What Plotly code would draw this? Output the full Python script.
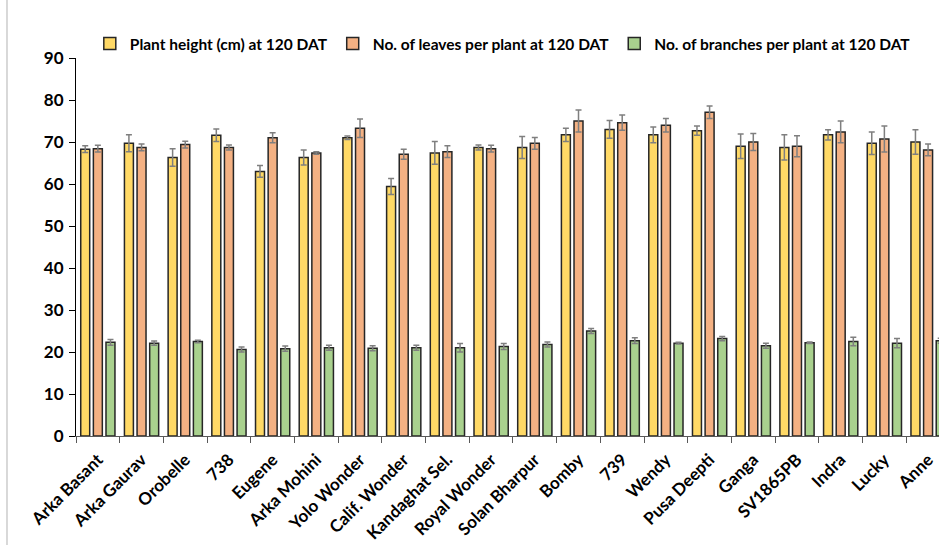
import plotly.graph_objects as go

categories = ["Arka Basant", "Arka Gaurav", "Orobelle", "738", "Eugene", "Arka Mohini",
              "Yolo Wonder", "Calif. Wonder", "Kandaghat Sel.", "Royal Wonder", "Solan Bharpur",
              "Bomby", "739", "Wendy", "Pusa Deepti", "Ganga", "SV1865PB", "Indra", "Lucky", "Anne"]

height = [68.3, 69.7, 66.3, 71.6, 63.0, 66.3, 71.0, 59.4, 67.4, 68.7,
          68.7, 71.7, 73.0, 71.7, 72.7, 69.0, 68.7, 71.7, 69.7, 70.0]
height_err = [0.8, 2.0, 2.1, 1.5, 1.4, 1.8, 0.4, 1.9, 2.7, 0.6,
              2.6, 1.6, 2.1, 1.9, 1.1, 2.9, 3.0, 1.2, 2.7, 2.9]
leaves = [68.4, 68.7, 69.4, 68.7, 71.0, 67.4, 73.3, 67.1, 67.7, 68.4,
          69.7, 75.0, 74.6, 74.0, 77.1, 70.0, 69.0, 72.4, 70.7, 68.1]
leaves_err = [0.8, 0.8, 0.8, 0.6, 1.2, 0.3, 2.2, 1.2, 1.4, 0.8,
              1.4, 2.6, 1.8, 1.6, 1.5, 2.0, 2.5, 2.6, 3.1, 1.4]
branches = [22.3, 22.1, 22.5, 20.6, 20.8, 21.0, 20.9, 21.0, 21.0, 21.3,
            21.8, 25.0, 22.7, 22.1, 23.2, 21.5, 22.2, 22.5, 22.1, 22.7]
branches_err = [0.7, 0.5, 0.3, 0.6, 0.6, 0.6, 0.6, 0.6, 1.0, 0.7,
                0.6, 0.6, 0.7, 0.2, 0.5, 0.6, 0.2, 1.0, 1.1, 0.6]

series = [
    ("Plant height (cm) at 120 DAT", height, height_err, "#FFD966"),
    ("No. of leaves per plant at 120 DAT", leaves, leaves_err, "#F4B183"),
    ("No. of branches per plant at 120 DAT", branches, branches_err, "#A9D18E"),
]

FONT = "Lato"
fig = go.Figure()
for name, vals, errs, col in series:
    fig.add_trace(go.Bar(
        x=categories, y=vals, name=name,
        marker=dict(color=col, line=dict(color="#262626", width=1.5)),
        error_y=dict(type="data", array=errs, visible=True, color="#7F7F7F",
                     thickness=1.5, width=3),
    ))

fig.update_layout(
    width=939, height=545, autosize=False,
    margin=dict(l=76, r=0, t=58, b=109),
    plot_bgcolor="white", paper_bgcolor="white",
    barmode="group", bargap=0.133, bargroupgap=0.29,
    font=dict(family=FONT, color="#000000"),
    legend=dict(orientation="h", x=0.016, xanchor="left", y=1.037, yanchor="middle",
                font=dict(family=FONT, size=15.5, color="#000000", weight="bold"),
                itemwidth=30, tracegroupgap=0, bgcolor="rgba(0,0,0,0)"),
    xaxis=dict(type="category", range=[-0.5, 19.25], showline=True, linecolor="#595959",
               linewidth=1.2, ticks="outside", tickson="boundaries", ticklen=6,
               tickcolor="#595959", tickangle=-45, showgrid=False, ticklabelstandoff=6,
               tickfont=dict(family=FONT, size=17, color="#000000", weight="bold")),
    yaxis=dict(range=[0, 90], dtick=10, showline=True, linecolor="#000000", linewidth=1.2,
               ticks="outside", ticklen=6, tickcolor="#000000", showgrid=False,
               zeroline=False, ticklabelstandoff=2,
               tickfont=dict(family=FONT, size=17, color="#000000", weight="bold")),
    shapes=[dict(type="line", xref="paper", yref="paper",
                 x0=(7 - 76) / 863, x1=(7 - 76) / 863, y0=-0.3, y1=1.2,
                 line=dict(color="#BFBFBF", width=1.2))],
)

fig.write_html("out.html")
